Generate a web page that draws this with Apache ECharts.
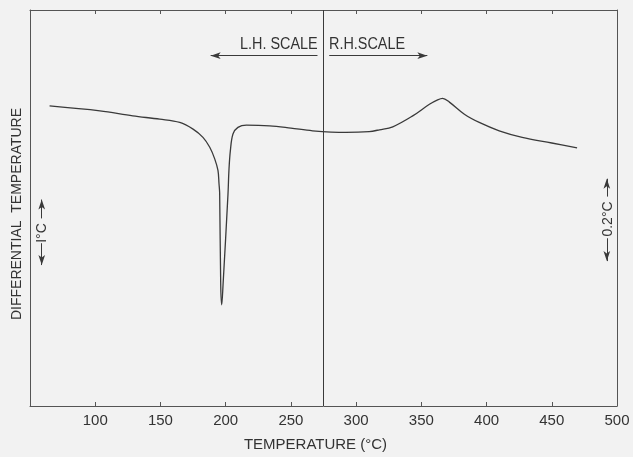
<!DOCTYPE html>
<html>
<head>
<meta charset="utf-8">
<script src="https://cdn.jsdelivr.net/npm/echarts@6/dist/echarts.min.js"></script>
<style>
html,body{margin:0;padding:0;background:#f2f2f2;}
#chart{width:633px;height:457px;}
</style>
</head>
<body>
<div id="chart"></div>
<script>
// Temperature (°C) along the trace
const temps = [65, 103.6, 128.8, 149.5, 164.8, 175.0, 182.6, 187.8, 191.6, 194.1, 194.9, 195.4, 196.2, 197.0, 198.0, 201.8, 202.5, 203.6, 205.6, 209.4, 215.9, 233.7, 250, 266.6, 292.1, 310, 317.9, 328.1, 343.4, 356.2, 362.5, 366.3, 371.5, 383, 394.4, 409.7, 427.3, 450, 469.4];
// Differential temperature (arbitrary chart units, up = exothermic)
const diffT = [302.3, 297.3, 292.3, 289, 285.7, 279, 270.7, 260.7, 249, 237.3, 224, 214, 122.3, 102, 122.3, 214, 237.3, 257.3, 274, 280.7, 283, 282.3, 280, 277.3, 275.7, 276.5, 278.3, 281.3, 292.3, 304, 308.5, 310, 306.2, 294, 285.7, 277.3, 270.7, 265, 260];
const xTicks = [100, 150, 200, 250, 300, 350, 400, 450, 500];
const scaleChangeTemp = 275;

const font = 'Liberation Sans, Arial, sans-serif';
const ink = '#333';
const chart = echarts.init(document.getElementById('chart'));
const pts = temps.map((t, i) => [t, diffT[i]]);
const frame = {show: true, onZero: false, lineStyle: {color: '#555', width: 1}};

chart.setOption({
  backgroundColor: '#f2f2f2',
  animation: false,
  grid: {left: 30, right: 16, top: 10, bottom: 48},
  xAxis: [{
    type: 'value', min: 50, max: 500, interval: 50, position: 'bottom',
    axisLine: frame,
    axisTick: {show: true, inside: true, length: 4, lineStyle: {color: '#555'}},
    splitLine: {show: false},
    axisLabel: {color: ink, fontSize: 15, fontFamily: font, margin: 7,
      formatter: v => xTicks.includes(v) ? String(v) : ''},
    name: 'TEMPERATURE (°C)', nameLocation: 'middle', nameGap: 31,
    nameTextStyle: {color: ink, fontSize: 15, fontFamily: font, padding: [0, 16, 0, 0]}
  }, {
    type: 'value', min: 50, max: 500, interval: 50, position: 'top',
    axisLine: frame,
    axisTick: {show: true, inside: true, length: 4, lineStyle: {color: '#555'}},
    splitLine: {show: false}, axisLabel: {show: false}
  }],
  yAxis: [{
    type: 'value', min: 0, max: 399, position: 'left',
    axisLine: frame,
    axisTick: {show: false}, axisLabel: {show: false}, splitLine: {show: false},
    name: 'DIFFERENTIAL  TEMPERATURE', nameLocation: 'middle', nameGap: 6, nameRotate: 90,
    nameTextStyle: {color: ink, fontSize: 14, fontFamily: font, padding: [0, 12, 0, 0]}
  }, {
    type: 'value', min: 0, max: 399, position: 'right',
    axisLine: frame,
    axisTick: {show: false}, axisLabel: {show: false}, splitLine: {show: false}
  }],
  series: [{
    type: 'line', data: pts, showSymbol: false, smooth: 0.35,
    lineStyle: {color: '#3a3a3a', width: 1.3},
    markLine: {
      silent: true, animation: false,
      label: {show: false},
      lineStyle: {color: '#3a3a3a', width: 1, type: 'solid'},
      symbolSize: [5, 10],
      data: [
        [{coord: [scaleChangeTemp, 0], symbol: 'none'}, {coord: [scaleChangeTemp, 399], symbol: 'none'}],
        [{coord: [270.4, 353], symbol: 'none'}, {coord: [188.5, 353], symbol: 'arrow'}],
        [{coord: [279.4, 353], symbol: 'none'}, {coord: [354.6, 353], symbol: 'arrow'}],
        [{coord: [59, 189], symbol: 'none'}, {coord: [59, 208], symbol: 'arrow'}],
        [{coord: [59, 164], symbol: 'none'}, {coord: [59, 142], symbol: 'arrow'}],
        [{coord: [492.2, 211], symbol: 'none'}, {coord: [492.2, 229], symbol: 'arrow'}],
        [{coord: [492.2, 169], symbol: 'none'}, {coord: [492.2, 146], symbol: 'arrow'}]
      ]
    }
  }, {
    type: 'line', xAxisIndex: 1, yAxisIndex: 1, data: [], showSymbol: false
  }],
  graphic: [
    {type: 'text', left: 240, top: 37, scaleX: 0.9, style: {text: 'L.H. SCALE', fill: ink, font: '16px ' + font}},
    {type: 'text', left: 329, top: 37, scaleX: 0.9, style: {text: 'R.H.SCALE', fill: ink, font: '16px ' + font}},
    {type: 'text', x: 42, y: 233, rotation: Math.PI / 2,
      style: {text: 'I°C', fill: ink, font: '14px ' + font, align: 'center', verticalAlign: 'middle'}},
    {type: 'text', x: 608, y: 219, rotation: Math.PI / 2,
      style: {text: '0.2°C', fill: ink, font: '14px ' + font, align: 'center', verticalAlign: 'middle'}}
  ]
});
</script>
</body>
</html>
